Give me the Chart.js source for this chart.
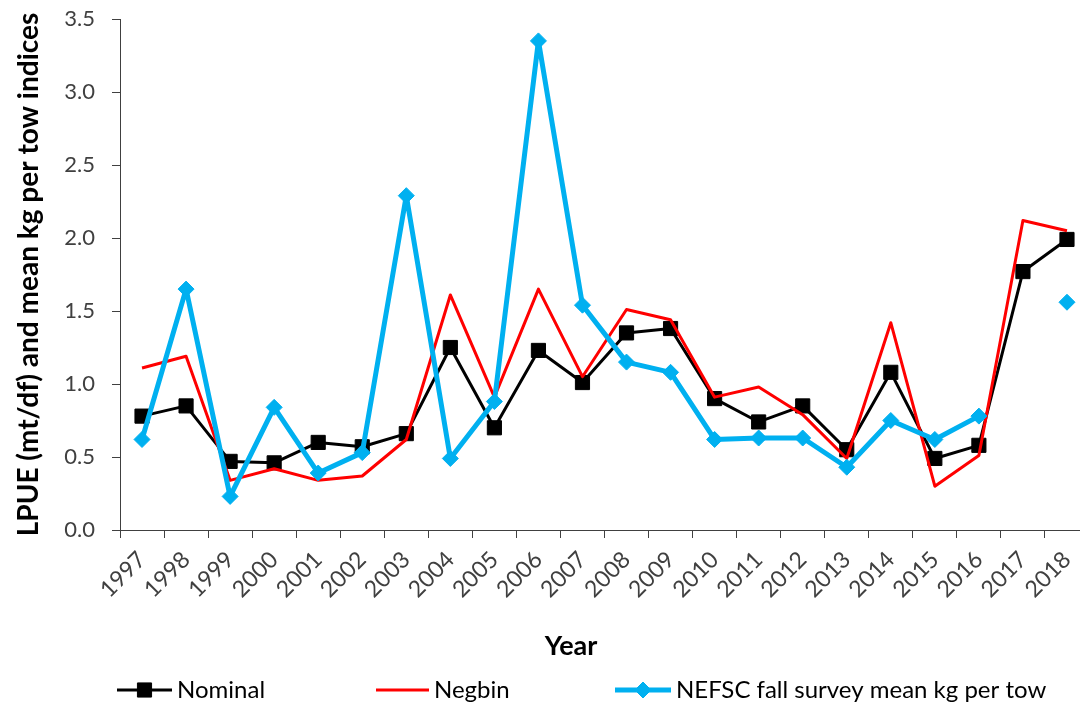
<!DOCTYPE html>
<html>
<head>
<meta charset="utf-8">
<script src="https://cdn.jsdelivr.net/npm/chart.js@4.4.1/dist/chart.umd.min.js"></script>
<style>
  html, body { margin: 0; padding: 0; background: #ffffff; overflow: hidden; }
  #wrap { width: 1080px; height: 703px; overflow: hidden; position: relative; }
  #lpueChart { position: absolute; left: 0; top: 0; }
</style>
</head>
<body>
<div id="wrap">
  <canvas id="lpueChart" width="1100" height="703"></canvas>
</div>
<script>
// ------------------------------ Data ------------------------------------
const years = ['1997', '1998', '1999', '2000', '2001', '2002', '2003', '2004', '2005', '2006', '2007',
               '2008', '2009', '2010', '2011', '2012', '2013', '2014', '2015', '2016', '2017', '2018'];

const nominal = [0.78, 0.85, 0.47, 0.46, 0.60, 0.57, 0.66, 1.25, 0.70, 1.23, 1.01,
                 1.35, 1.38, 0.90, 0.74, 0.85, 0.55, 1.08, 0.49, 0.58, 1.77, 1.99];

const negbin = [1.11, 1.19, 0.34, 0.42, 0.34, 0.37, 0.62, 1.61, 0.91, 1.65, 1.05,
                1.51, 1.44, 0.91, 0.98, 0.79, 0.49, 1.42, 0.30, 0.51, 2.12, 2.05];

// 2017 has no fall survey value
const nefscFall = [0.62, 1.65, 0.23, 0.84, 0.39, 0.53, 2.29, 0.49, 0.88, 3.35, 1.54,
                   1.15, 1.08, 0.62, 0.63, 0.63, 0.43, 0.75, 0.62, 0.78, null, 1.56];

const yTicks = [0, 0.5, 1.0, 1.5, 2.0, 2.5, 3.0, 3.5];

const xTitle = 'Year';
const yTitle = 'LPUE (mt/df) and mean kg per tow indices';

const mainFont = 'Lato, "Open Sans", sans-serif';
const axisColor = '#404040';

// --------------------- Legend + x title drawn under the axis ----------------------
const legendSlots = [
  { x: 117, w: 55 },
  { x: 376, w: 53 },
  { x: 615, w: 56 }
];

const bottomLegend = {
  id: 'bottomLegend',
  afterDraw(chart) {
    const ctx = chart.ctx;
    const y = 690;
    ctx.save();

    // x axis title (sits left of the plot centre, like the original)
    ctx.fillStyle = '#000000';
    ctx.font = 'bold 27px ' + mainFont;
    ctx.textAlign = 'center';
    ctx.textBaseline = 'middle';
    ctx.fillText(xTitle, 571, 646);

    chart.data.datasets.forEach((ds, i) => {
      const slot = legendSlots[i];
      ctx.strokeStyle = ds.borderColor;
      ctx.lineWidth = ds.borderWidth;
      ctx.beginPath();
      ctx.moveTo(slot.x, y);
      ctx.lineTo(slot.x + slot.w, y);
      ctx.stroke();
      if (ds.pointRadius > 0) {
        ctx.fillStyle = ds.pointBackgroundColor;
        ctx.strokeStyle = ds.pointBorderColor;
        ctx.lineWidth = 1;
        Chart.helpers.drawPoint(ctx, {
          pointStyle: ds.pointStyle,
          radius: ds.pointRadius,
          borderWidth: 1
        }, slot.x + slot.w / 2, y);
      }
      ctx.fillStyle = '#000000';
      ctx.font = '24px ' + mainFont;
      ctx.textBaseline = 'alphabetic';
      ctx.textAlign = 'left';
      ctx.fillText(ds.label, slot.x + slot.w + 5, 698);
    });
    ctx.restore();
  }
};

// ----------------------------- Chart.js ----------------------------------
const ctx = document.getElementById('lpueChart');
const myChart = new Chart(ctx, {
  type: 'line',
  data: {
    labels: years,
    datasets: [
      {
        label: 'Nominal',
        data: nominal,
        borderColor: '#000000',
        backgroundColor: '#000000',
        borderWidth: 3,
        borderJoinStyle: 'round',
        pointStyle: 'rect',
        pointRadius: 10,
        pointBackgroundColor: '#000000',
        pointBorderColor: '#000000',
        pointBorderWidth: 1,
        tension: 0,
        order: 3
      },
      {
        label: 'Negbin',
        data: negbin,
        borderColor: '#FF0000',
        backgroundColor: '#FF0000',
        borderWidth: 3,
        borderJoinStyle: 'round',
        pointRadius: 0,
        tension: 0,
        order: 2
      },
      {
        label: 'NEFSC fall survey mean kg per tow',
        data: nefscFall,
        borderColor: '#00B0F0',
        backgroundColor: '#00B0F0',
        borderWidth: 5,
        borderJoinStyle: 'round',
        pointStyle: 'rectRot',
        pointRadius: 8,
        pointBackgroundColor: '#00B0F0',
        pointBorderColor: '#00B0F0',
        pointBorderWidth: 1,
        spanGaps: false,
        tension: 0,
        order: 1
      }
    ]
  },
  options: {
    responsive: false,
    animation: false,
    layout: {
      padding: { left: 0, right: 8, top: 19, bottom: 44 }
    },
    plugins: {
      legend: { display: false },
      tooltip: { enabled: false }
    },
    scales: {
      x: {
        offset: true,
        grid: {
          offset: true,
          drawOnChartArea: false,
          drawTicks: true,
          tickLength: 8,
          tickColor: axisColor
        },
        border: { display: true, color: axisColor, width: 1 },
        ticks: {
          color: axisColor,
          font: { family: mainFont, size: 23 },
          minRotation: 45,
          maxRotation: 45,
          padding: 8,
          autoSkip: false
        },
        afterFit(scale) {
          scale.height = 129;
        }
      },
      y: {
        min: 0,
        max: 3.5,
        afterBuildTicks(scale) {
          scale.ticks = yTicks.map(v => ({ value: v }));
        },
        grid: {
          drawOnChartArea: false,
          drawTicks: true,
          tickLength: 8,
          tickColor: axisColor
        },
        border: { display: true, color: axisColor, width: 1 },
        ticks: {
          color: axisColor,
          font: { family: mainFont, size: 22 },
          padding: 17,
          callback: function(value) {
            return Number(value).toFixed(1);
          }
        },
        title: {
          display: true,
          text: yTitle,
          color: '#000000',
          font: { family: mainFont, size: 28, weight: 'bold' },
          padding: { top: 12, bottom: 0 }
        },
        afterFit(scale) {
          scale.width = 120;
          // label padding would otherwise push the plot top down
          scale.paddingTop = 10;
          scale.paddingBottom = 10;
        }
      }
    }
  },
  plugins: [bottomLegend]
});
</script>
</body>
</html>
